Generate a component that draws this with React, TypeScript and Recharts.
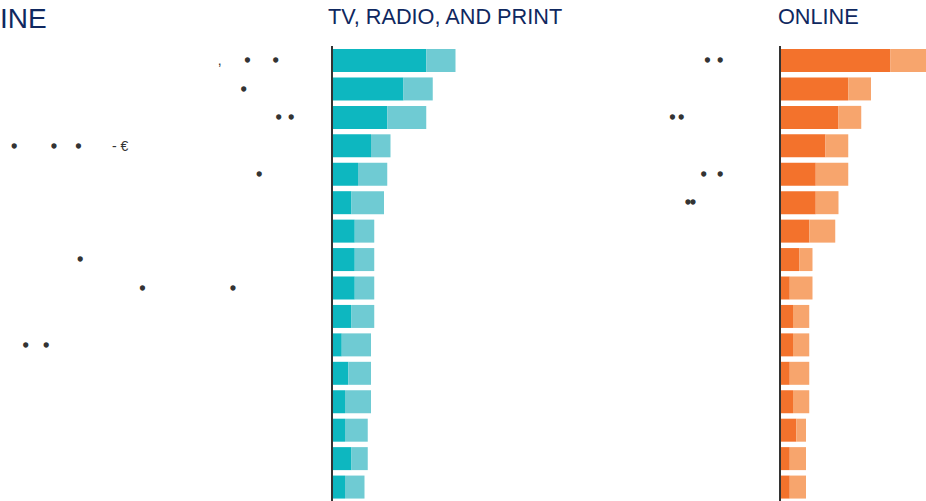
import React from "react";
import { BarChart, Bar, XAxis, YAxis } from "recharts";

// 16 rows, top to bottom
const rows = ["1", "2", "3", "4", "5", "6", "7", "8", "9", "10", "11", "12", "13", "14", "15", "16"];

const tvBase = [29, 22, 17, 12, 8, 6, 7, 7, 7, 6, 3, 5, 4, 4, 6, 4];
const tvExtra = [9, 9, 12, 6, 9, 10, 6, 6, 6, 7, 9, 7, 8, 7, 5, 6];

const onlineBase = [34, 21, 18, 14, 11, 11, 9, 6, 3, 4, 4, 3, 4, 5, 3, 3];
const onlineExtra = [12, 7, 7, 7, 10, 7, 8, 4, 7, 5, 5, 6, 5, 3, 5, 5];

// row labels: only a few glyphs of them show up
const sp = (n: number) => " ".repeat(n);
const tvLabels = [
  sp(56) + "," + sp(6) + "•" + sp(6) + "•",
  sp(62) + "•",
  sp(71) + "•" + sp(2) + "•",
  sp(3) + "•" + sp(9) + "•" + sp(5) + "•" + sp(8) + "- €",
  sp(66) + "•",
  "",
  "",
  sp(20) + "•",
  sp(36) + "•" + sp(22) + "•",
  "",
  sp(6) + "•" + sp(4) + "•",
  "",
  "",
  "",
  "",
  "",
];
const onlineLabels = [
  sp(27) + "•" + sp(2) + "•",
  "",
  sp(18) + "•" + sp(1) + "•",
  "",
  sp(26) + "•" + sp(3) + "•",
  sp(22) + "••",
  "",
  "",
  "",
  "",
  "",
  "",
  "",
  "",
  "",
  "",
];

const TITLE_COLOR = "#0f2860";
const FONT = "'Liberation Sans', Arial, sans-serif";
const PX_PER_UNIT = 3.25;

const makeTick = (labels: string[]) => (props: any) => {
  const { y, payload } = props;
  const label = labels[payload.index] || "";
  const parts = label.split(/(•)/);
  return (
    <text
      x={0}
      y={y}
      dy={5}
      fontSize={14}
      fontFamily={FONT}
      fill="#333"
      textAnchor="start"
      style={{ whiteSpace: "pre" }}
    >
      {parts.map((p, i) =>
        p === "•" ? (
          <tspan key={i} stroke="#333" strokeWidth={1.4}>
            {p}
          </tspan>
        ) : (
          <tspan key={i}>{p}</tspan>
        )
      )}
    </text>
  );
};

const Panel = ({
  base,
  extra,
  labels,
  dark,
  light,
  axisWidth,
  width,
}: {
  base: number[];
  extra: number[];
  labels: string[];
  dark: string;
  light: string;
  axisWidth: number;
  width: number;
}) => {
  const data = rows.map((r, i) => ({ row: r, base: base[i], extra: extra[i] }));
  const maxX = (width - axisWidth) / PX_PER_UNIT;
  return (
    <BarChart
      width={width}
      height={501}
      data={data}
      layout="vertical"
      margin={{ top: 46, right: 0, bottom: 0, left: 0 }}
    >
      <XAxis type="number" domain={[0, maxX]} allowDataOverflow hide />
      <Bar dataKey="base" stackId="s" fill={dark} barSize={23} isAnimationActive={false} />
      <Bar dataKey="extra" stackId="s" fill={light} barSize={23} isAnimationActive={false} />
      <YAxis
        type="category"
        dataKey="row"
        width={axisWidth}
        axisLine={{ stroke: "#333", strokeWidth: 2 }}
        tickLine={false}
        interval={0}
        tick={makeTick(labels)}
      />
    </BarChart>
  );
};

export default function App() {
  return (
    <div
      style={{
        position: "fixed",
        left: 0,
        top: 0,
        width: 926,
        height: 501,
        overflow: "hidden",
        background: "#fff",
      }}
    >
      <div style={{ position: "absolute", left: 0, top: 0 }}>
        <Panel
          base={tvBase}
          extra={tvExtra}
          labels={tvLabels}
          dark="#0db7c0"
          light="#6fcbd3"
          axisWidth={332}
          width={600}
        />
      </div>
      <div style={{ position: "absolute", left: 600, top: 0 }}>
        <Panel
          base={onlineBase}
          extra={onlineExtra}
          labels={onlineLabels}
          dark="#f3722c"
          light="#f7a56d"
          axisWidth={180}
          width={326}
        />
      </div>
      <svg
        width={926}
        height={501}
        style={{ position: "absolute", left: 0, top: 0, pointerEvents: "none" }}
      >
        <g fontFamily={FONT} fill={TITLE_COLOR}>
          <text x={0} y={28} fontSize={28}>INE</text>
          <text x={328} y={24} fontSize={21.7}>TV, RADIO, AND PRINT</text>
          <text x={778} y={24} fontSize={21.7}>ONLINE</text>
        </g>
      </svg>
    </div>
  );
}
